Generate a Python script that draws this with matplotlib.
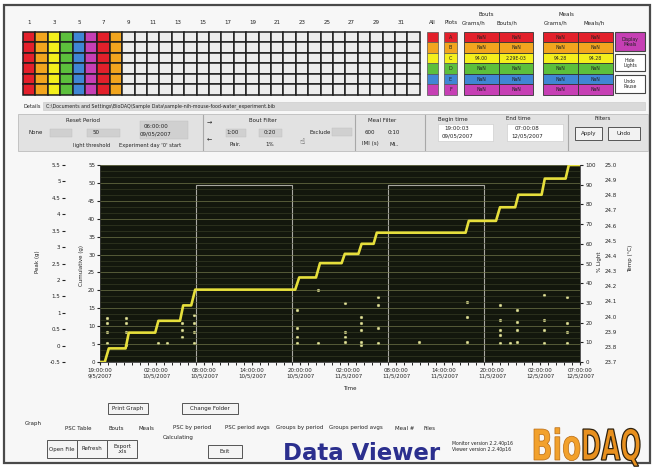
import matplotlib
matplotlib.use('Agg')
import matplotlib.pyplot as plt
from matplotlib.patches import Rectangle, PathPatch
from matplotlib.textpath import TextPath
from matplotlib.font_manager import FontProperties
from matplotlib.transforms import Affine2D
from matplotlib.ticker import MultipleLocator, FixedLocator, FuncFormatter

W, H = 655, 469

# ---------------- data ----------------
x_tick_hours = [0, 7, 13, 19, 25, 31, 37, 43, 49, 55, 60]
x_tick_times = ["19:00:00", "02:00:00", "08:00:00", "14:00:00", "20:00:00", "02:00:00",
                "08:00:00", "14:00:00", "20:00:00", "02:00:00", "07:00:00"]
x_tick_dates = ["9/5/2007", "10/5/2007", "10/5/2007", "10/5/2007", "10/5/2007", "11/5/2007",
                "11/5/2007", "11/5/2007", "11/5/2007", "12/5/2007", "12/5/2007"]

meal_start_h = [0.6, 3.2, 6.9, 10.0, 11.4, 24.4, 27.0, 30.2, 32.3, 34.2, 45.7, 49.5, 51.9, 55.2, 58.2]
meal_end_h = [1.1, 3.6, 7.3, 10.4, 11.9, 24.9, 27.5, 30.6, 32.7, 34.6, 46.1, 50.0, 52.3, 55.6, 58.6]
cum_after = [3.8, 8.2, 11.5, 15.8, 20.2, 23.6, 27.6, 30.2, 33.0, 36.1, 39.4, 43.2, 46.7, 51.2, 55.0]

light_h = [0, 12, 12, 24, 24, 36, 36, 48, 48, 60]
light_pct = [0, 0, 90, 90, 0, 0, 90, 90, 0, 0]

peak_h = [0.9, 0.9, 0.9, 0.9, 3.25, 3.25, 3.25, 3.25, 7.25, 8.4,
          10.25, 10.25, 10.25, 11.75, 11.75, 11.75, 11.75,
          24.6, 24.6, 24.6, 24.6, 27.25, 27.25,
          30.6, 30.6, 30.6, 30.6, 32.6, 32.6, 32.6, 32.6, 32.6,
          34.75, 34.75, 34.75, 34.75, 39.9, 45.9, 45.9, 45.9,
          50.0, 50.0, 50.0, 50.0, 50.0, 51.25, 52.1, 52.1, 52.1, 52.1,
          55.5, 55.5, 55.5, 55.5, 58.4, 58.4, 58.4, 58.4]
peak_g = [0.85, 0.69, 0.42, 0.08, 0.85, 0.69, 0.42, 0.02, 0.08, 0.08,
          0.69, 0.48, 0.27, 0.94, 0.69, 0.42, 0.08,
          1.09, 0.54, 0.27, 0.08, 1.70, 0.08,
          1.31, 0.42, 0.27, 0.11, 0.88, 0.69, 0.48, 0.11, 0.02,
          1.49, 1.24, 0.54, 0.08, 0.11, 1.34, 0.88, 0.11,
          1.24, 0.79, 0.48, 0.33, 0.08, 0.08, 1.09, 0.72, 0.48, 0.11,
          1.55, 0.79, 0.48, 0.08, 1.49, 0.69, 0.42, 0.08]

row_colors = ["#e3202b", "#f2a51e", "#f4ef1c", "#5cbf3c", "#3f86d4", "#c63fb4"]
channel_colors = ["#e3202b", "#f2a51e", "#f4ef1c", "#5cbf3c", "#3f86d4", "#c63fb4", "#e3202b", "#f2a51e"]
n_channels = 32
channel_labels = [str(i) for i in range(1, 32, 2)]
plot_letters = ["A", "B", "C", "D", "E", "F"]
bouts_grams = ["NaN", "NaN", "94.00", "NaN", "NaN", "NaN"]
bouts_per_h = ["NaN", "NaN", "2.29E-03", "NaN", "NaN", "NaN"]
meals_grams = ["NaN", "NaN", "94.28", "NaN", "NaN", "NaN"]
meals_per_h = ["NaN", "NaN", "94.28", "NaN", "NaN", "NaN"]
tab_labels = ["Graph", "PSC Table", "Bouts", "Meals", "PSC by period", "PSC period avgs",
              "Groups by period", "Groups period avgs", "Meal #", "Files"]
tab_x = [33, 78, 116, 146, 192, 247, 300, 356, 405, 430]

# ---------------- figure / UI layer ----------------
fig = plt.figure(figsize=(W / 100, H / 100), dpi=100)
fig.patch.set_facecolor("white")
ui = fig.add_axes([0, 0, 1, 1])
ui.set_xlim(0, W)
ui.set_ylim(H, 0)
ui.axis("off")

FS = 4.0


def rect(x0, y0, x1, y1, fc="none", ec="#888888", lw=0.6, z=1):
    ui.add_patch(Rectangle((x0, y0), x1 - x0, y1 - y0, facecolor=fc, edgecolor=ec, linewidth=lw, zorder=z))


def txt(x, y, s, size=FS, ha="center", va="center", color="#222222", **kw):
    ui.text(x, y, s, fontsize=size, ha=ha, va=va, color=color, zorder=5, **kw)


def boxed_word(s, x0, x1, y_base, cap_h, fc, ec, lw):
    tp = TextPath((0, 0), s, size=1, prop=FontProperties(family="DejaVu Sans", weight="bold"))
    ext = tp.get_extents()
    sx = (x1 - x0) / ext.width
    sy = cap_h / 0.73
    tr = Affine2D().translate(-ext.x0, 0).scale(sx, -sy).translate(x0, y_base)
    ui.add_patch(PathPatch(tr.transform_path(tp), facecolor=fc, edgecolor=ec, lw=lw, zorder=6))


# outer frame
rect(4, 5, 650, 463, fc="#f7f7f7", ec="#4a4a4a", lw=1.6, z=0)

# channel grid
gx0, pitch = 23, 12.4
gy0, rpitch = 32, 10.5
for c in range(n_channels):
    fc = channel_colors[c] if c < len(channel_colors) else "#ececec"
    for r in range(6):
        rect(gx0 + c * pitch, gy0 + r * rpitch, gx0 + (c + 1) * pitch, gy0 + (r + 1) * rpitch,
             fc=fc, ec="#1e1e1e", lw=1.1)
for i, lab in enumerate(channel_labels):
    txt(gx0 + (2 * i + 0.5) * pitch, 23, lab)

# All / Plots columns
txt(432, 23, "All")
txt(451, 23, "Plots")
for r in range(6):
    rect(427, gy0 + r * rpitch, 438, gy0 + (r + 1) * rpitch, fc=row_colors[r], ec="#555555", lw=0.5)
    rect(444, gy0 + r * rpitch, 457, gy0 + (r + 1) * rpitch, fc=row_colors[r], ec="#555555", lw=0.5)
    txt(450.5, gy0 + (r + 0.5) * rpitch, plot_letters[r], size=3.5)

# Bouts / Meals tables
txt(486, 15, "Bouts")
txt(474, 23, "Grams/h")
txt(507, 23, "Bouts/h")
txt(566, 15, "Meals")
txt(556, 23, "Grams/h")
txt(594, 23, "Meals/h")
for r in range(6):
    yy0, yy1 = gy0 + r * rpitch, gy0 + (r + 1) * rpitch
    for (xa, xb, vals) in [(464, 499, bouts_grams), (499, 533, bouts_per_h),
                           (543, 578, meals_grams), (578, 613, meals_per_h)]:
        rect(xa, yy0, xb, yy1, fc=row_colors[r], ec="#333333", lw=0.6)
        txt((xa + xb) / 2, (yy0 + yy1) / 2, vals[r], size=3.3)

# right buttons
rect(615, 32, 645, 51, fc="#c63fb4", ec="#444444", lw=0.8)
txt(630, 41.5, "Display\nMeals", size=3.3, linespacing=1.0)
rect(615, 54, 645, 71, fc="white", ec="#444444", lw=0.8)
txt(630, 62.5, "Hide\nLights", size=3.3, linespacing=1.0)
rect(615, 75, 645, 93, fc="white", ec="#444444", lw=0.8)
txt(630, 84, "Undo\nPause", size=3.3, linespacing=1.0)

# details bar
txt(24, 106, "Details", ha="left", size=3.6)
rect(43, 102, 645, 110, fc="#d9d9d9", ec="#c8c8c8", lw=0.4)
txt(46, 106, "C:\\Documents and Settings\\BioDAQ\\Sample Data\\sample-nih-mouse-food-water_experiment.bib",
    ha="left", size=3.4)

# filter panel
rect(18, 114, 648, 151, fc="#e2e2e2", ec="#bdbdbd", lw=0.6)
for xd in [203, 355, 425, 568]:
    ui.plot([xd, xd], [115, 150], color="#a8a8a8", lw=0.8, zorder=2)
txt(83, 121, "Reset Period")
txt(36, 133, "None")
rect(50, 129, 72, 137, fc="#d0d0d0", ec="#c0c0c0", lw=0.3)
rect(87, 129, 120, 137, fc="#d0d0d0", ec="#c0c0c0", lw=0.3)
txt(96, 133, "50")
rect(140, 121, 188, 139, fc="#d0d0d0", ec="#c0c0c0", lw=0.3)
txt(156, 127, "06:00:00")
txt(156, 134, "09/05/2007")
txt(92, 146, "light threshold", size=3.7)
txt(150, 146, "Experiment day '0' start", size=3.7)

txt(209, 122, "\u2192", size=4.5)
txt(209, 139, "\u2190", size=4.5)
txt(263, 121, "Bout Filter")
rect(226, 129, 246, 137, fc="#d0d0d0", ec="#c0c0c0", lw=0.3)
txt(233, 133, "1:00")
rect(259, 129, 282, 137, fc="#d0d0d0", ec="#c0c0c0", lw=0.3)
txt(270, 133, "0:20")
txt(235, 145, "Pair.")
txt(270, 145, "1%")
txt(302, 141, "\u261d", size=6)
txt(320, 132, "Exclude")
rect(332, 128, 352, 136, fc="#d0d0d0", ec="#c0c0c0", lw=0.3)

txt(382, 121, "Meal Filter")
txt(370, 132, "600")
txt(394, 132, "0:10")
txt(370, 144, "IMI (s)")
txt(394, 144, "Mi..")

txt(453, 119, "Begin time")
rect(438, 124, 493, 141, fc="white", ec="#c8c8c8", lw=0.4)
txt(457, 128.5, "19:00:03")
txt(457, 135.5, "09/05/2007")
txt(518, 119, "End time")
rect(507, 124, 563, 141, fc="white", ec="#c8c8c8", lw=0.4)
txt(527, 128.5, "07:00:08")
txt(527, 135.5, "12/05/2007")

txt(603, 118, "Filters")
rect(575, 127, 602, 140, fc="#f2f2f2", ec="#555555", lw=0.7)
txt(588.5, 133.5, "Apply")
rect(608, 127, 640, 140, fc="#f2f2f2", ec="#555555", lw=0.7)
txt(624, 133.5, "Undo")

# bottom controls
rect(108, 403, 148, 414, fc="#f4f4f4", ec="#555555", lw=0.7)
txt(128, 408.5, "Print Graph")
rect(182, 403, 238, 414, fc="#f4f4f4", ec="#555555", lw=0.7)
txt(210, 408.5, "Change Folder")
for lab, xx in zip(tab_labels, tab_x):
    txt(xx, 424 if lab == "Graph" else 428, lab)
for (xa, xb, lab) in [(47, 77, "Open File"), (77, 107, "Refresh"), (107, 137, "Export\n.xls")]:
    rect(xa, 440, xb, 458, fc="#f4f4f4", ec="#555555", lw=0.7)
    txt((xa + xb) / 2, 449, lab, linespacing=1.0)
txt(178, 438, "Calculating")
rect(208, 445, 242, 458, fc="#f4f4f4", ec="#555555", lw=0.7)
txt(225, 451.5, "Exit")
ui.text(283, 453, "Data Viewer", fontsize=16.5, fontweight="bold", color="#2b2f8e",
        ha="left", va="center", zorder=5)
txt(452, 443, "Monitor version 2.2.40p16", ha="left", size=3.3)
txt(452, 450, "Viewer version 2.2.40p16", ha="left", size=3.3)
# BioDAQ logo (condensed lettering)
boxed_word("Bio", 534, 580, 460, 31, "#f2a12c", "#b86a12", 0.5)
boxed_word("DAQ", 583, 640, 460, 31, "#e8901e", "#2e2210", 0.9)

# ---------------- plot ----------------
L, R, T, B = 100, 580, 165, 362
rect_ax = [L / W, 1 - B / H, (R - L) / W, (B - T) / H]
ax_light = fig.add_axes(rect_ax)
ax_light.set_facecolor("#13170d")
ax_light.set_xlim(0, 60)
ax_light.set_ylim(0, 100)
ax_light.plot(light_h, light_pct, color="#a8a8a0", lw=0.8, zorder=2)
ax_light.xaxis.set_major_locator(FixedLocator(x_tick_hours))
ax_light.set_xticklabels([f"{t}\n{d}" for t, d in zip(x_tick_times, x_tick_dates)])
ax_light.tick_params(axis="x", labelsize=FS, length=2, pad=2, colors="#222222")
for s in ax_light.spines.values():
    s.set_color("#3a3a3a")
    s.set_linewidth(0.6)

ax_peak = ax_light.twinx()
ax_peak.set_ylim(-0.5, 5.5)
ax_peak.yaxis.tick_left()
ax_peak.spines["left"].set_position(("axes", -0.072))
for s in ax_peak.spines.values():
    s.set_visible(False)
ax_peak.yaxis.set_major_locator(MultipleLocator(0.5))
ax_peak.yaxis.set_major_formatter(FuncFormatter(lambda v, p: f"{v:g}"))
ax_peak.tick_params(axis="y", labelsize=FS, length=2, pad=1.5, colors="#222222")
ax_peak.plot(peak_h, peak_g, linestyle="none", marker="o", ms=2.0, mfc="#e4e4a0",
             mec="#b8b870", mew=0.3, zorder=3)

ax_cum = ax_light.twinx()
ax_cum.set_ylim(0, 55)
ax_cum.yaxis.tick_left()
for s in ax_cum.spines.values():
    s.set_visible(False)
ax_cum.yaxis.set_major_locator(MultipleLocator(5))
ax_cum.yaxis.set_minor_locator(MultipleLocator(5 / 3))
ax_cum.xaxis.set_minor_locator(MultipleLocator(1))
ax_cum.tick_params(axis="y", which="major", labelsize=FS, length=2, pad=1.5, colors="#222222")
ax_cum.tick_params(axis="y", which="minor", length=0)
ax_cum.tick_params(axis="x", which="minor", length=0)
ax_cum.grid(True, axis="y", which="major", color="#6f7548", lw=0.5)
ax_cum.grid(True, axis="y", which="minor", color="#3d4328", lw=0.4)
ax_cum.grid(True, axis="x", which="major", color="#8e9466", lw=0.6)
ax_cum.grid(True, axis="x", which="minor", color="#3d4328", lw=0.4)
cx, cy = [0.0], [0.0]
prev = 0.0
for s0, s1, c in zip(meal_start_h, meal_end_h, cum_after):
    cx += [s0, s1]
    cy += [prev, c]
    prev = c
cx.append(60)
cy.append(prev)
ax_cum.plot(cx, cy, color="#e6df3c", lw=1.9, zorder=4, solid_joinstyle="round")

ax_temp = ax_light.twinx()
ax_temp.set_ylim(23.7, 25.0)
ax_temp.spines["right"].set_position(("axes", 1.048))
for s in ax_temp.spines.values():
    s.set_visible(False)
ax_temp.yaxis.set_major_locator(FixedLocator([23.7 + 0.1 * i for i in range(14)]))
ax_temp.yaxis.set_major_formatter(FuncFormatter(lambda v, p: f"{v:.1f}"))
ax_temp.tick_params(axis="y", labelsize=FS, length=0, pad=1.5, colors="#222222")

# % Light ticks on the right (twinx moved them left, so put them back)
ax_light.yaxis.tick_right()
ax_light.yaxis.set_major_locator(MultipleLocator(10))
ax_light.yaxis.set_major_formatter(FuncFormatter(lambda v, p: f"{v:g}"))
ax_light.tick_params(axis="y", labelsize=FS, length=2, pad=2, colors="#222222")
ax_light.tick_params(axis="y", which="both", left=False, labelleft=False, right=True, labelright=True)

# axis titles
txt(37, 262, "Peak (g)", rotation=90)
txt(81, 265, "Cumulative (g)", rotation=90)
txt(599, 262, "% Light", rotation=90)
txt(631, 258, "Temp (\u00b0C)", rotation=90)
txt(350, 388, "Time")

fig.savefig("out.png", dpi=100, facecolor="white")
